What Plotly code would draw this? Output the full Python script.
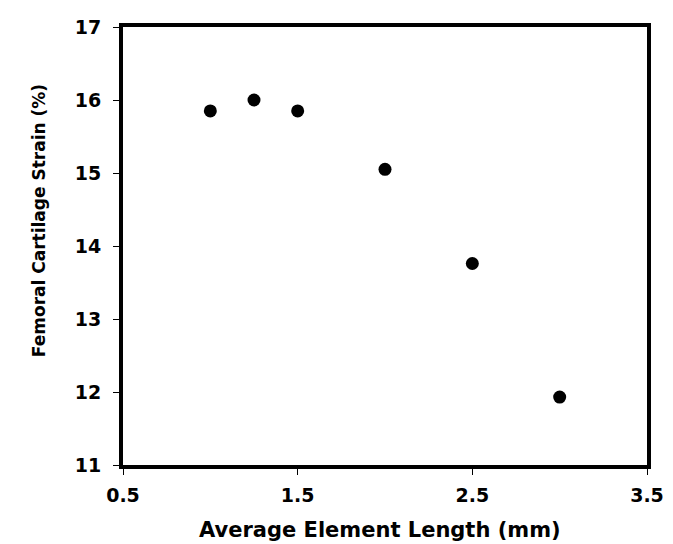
import plotly.graph_objects as go

element_length = [1.0, 1.25, 1.5, 2.0, 2.5, 3.0]
cartilage_strain = [15.85, 16.0, 15.85, 15.05, 13.76, 11.93]

x_tickvals = [0.5, 1.5, 2.5, 3.5]
x_ticktext = ["0.5", "1.5", "2.5", "3.5"]
y_tickvals = [11, 12, 13, 14, 15, 16, 17]

x_title = "Average Element Length (mm)"
y_title = "Femoral Cartilage Strain (%)"

font_family = "DejaVu Sans, Arial, sans-serif"

fig = go.Figure()
fig.add_trace(go.Scatter(
    x=element_length, y=cartilage_strain, mode="markers",
    marker=dict(color="black", size=13, line=dict(width=0)),
    showlegend=False,
))

fig.update_layout(
    width=673, height=544,
    margin=dict(l=115, r=34, t=19, b=87),
    paper_bgcolor="white", plot_bgcolor="white",
    font=dict(family=font_family, color="black"),
)
fig.update_xaxes(
    range=[0.5, 3.5], tickvals=x_tickvals, ticktext=x_ticktext,
    showgrid=False, zeroline=False,
    showline=True, linecolor="black", linewidth=4, mirror=True,
    ticks="outside", ticklen=6, tickwidth=1, tickcolor="black",
    tickfont=dict(size=19, family=font_family, weight="bold"),
    ticklabelstandoff=4,
    automargin=False,
)
fig.update_yaxes(
    range=[11, 17], tickvals=y_tickvals,
    showgrid=False, zeroline=False,
    showline=True, linecolor="black", linewidth=4, mirror=True,
    ticks="outside", ticklen=6, tickwidth=1, tickcolor="black",
    tickfont=dict(size=19, family=font_family, weight="bold"),
    ticklabelstandoff=8,
    automargin=False,
)

fig.add_annotation(
    text=x_title, xref="paper", yref="paper", x=0.49, y=-0.148,
    xanchor="center", yanchor="middle", showarrow=False,
    font=dict(size=21, family=font_family, weight="bold", color="black"),
)
fig.add_annotation(
    text=y_title, xref="paper", yref="paper", x=-0.16, y=0.557,
    xanchor="center", yanchor="middle", showarrow=False, textangle=-90,
    font=dict(size=17, family=font_family, weight="bold", color="black"),
)

fig.write_html("out.html")
